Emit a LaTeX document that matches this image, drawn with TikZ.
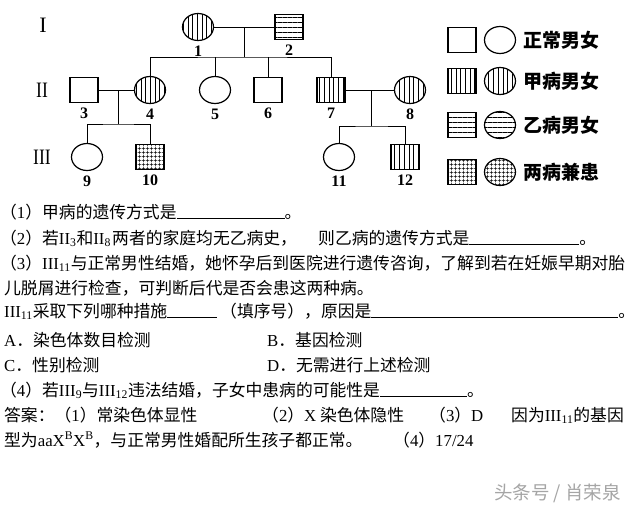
\documentclass[tikz,border=0pt]{standalone}
\usepackage{fontspec}
\usepackage{graphicx}
\setmainfont{Liberation Serif}
\newfontfamily\cjk{Noto Sans CJK SC}
\usetikzlibrary{positioning, shapes.geometric, patterns.meta}
\definecolor{markgray}{RGB}{165,165,165}
\newcommand{\latn}[1]{{\rmfamily #1}}
\newcommand{\genno}[2]{{\rmfamily #1\textsubscript{#2}}}
\newcommand{\ansline}[1]{\rule[-1pt]{#1}{0.6pt}}

\begin{document}
\begin{tikzpicture}[
  x=1pt, y=-1pt,
  male/.style={rectangle, draw, line width=1.2pt, minimum width=28pt, minimum height=25pt, inner sep=0pt},
  female/.style={ellipse, draw, line width=1.2pt, minimum width=31pt, minimum height=27pt, inner sep=0pt},
  jia/.style={pattern={Lines[angle=90, distance=4.7pt, line width=.8pt]}},
  yi/.style={pattern={Lines[angle=0, distance=5pt, line width=.8pt]}},
  liang/.style={pattern={Hatch[distance=4pt, line width=.7pt]}},
  num/.style={inner sep=0pt, font=\fontsize{16}{16}\selectfont\bfseries},
  gen/.style={inner sep=0pt, font=\fontsize{22}{22}\selectfont},
  key/.style={anchor=west, inner sep=0pt, font=\cjk\bfseries\fontsize{19}{19}\selectfont},
  txt/.style={anchor=base west, inner sep=0pt, font=\cjk\fontsize{16.8}{20}\selectfont},
  link/.style={line width=.8pt}
]
\path[use as bounding box, fill=white] (0,0) rectangle (640,507);

% generations
\node[gen] (g1) at (43,25) {I};
\node[gen] (g2) at (42,90) {\scalebox{.8}[1]{II}};
\node[gen] (g3) at (42,157) {\scalebox{.8}[1]{III}};

% pedigree
\node[female, jia] (p1) at (198,27) {};
\node[male, yi] (p2) at (289,27) {};
\node[male] (p3) at (84,90) {};
\node[female, jia] (p4) at (150,90) {};
\node[female] (p5) at (215,90) {};
\node[male] (p6) at (268,90) {};
\node[male, jia] (p7) at (331,90) {};
\node[female, jia] (p8) at (410,90) {};
\node[female] (p9) at (87,157) {};
\node[male, liang] (p10) at (150,157) {};
\node[female] (p11) at (339,157) {};
\node[male, jia] (p12) at (405,157) {};
\foreach \i in {1,...,12}
  \node[num, below=5pt of p\i] (n\i) {\i};

\coordinate (m12) at (244,27);
\coordinate (s12) at (244,57);
\draw[link] (p1) -- (p2);
\draw[link] (m12) -- (s12);
\draw[link] (p4.north) |- (s12) -| (p7.north);
\draw[link] (p5.north) -- (p5.north |- s12);
\draw[link] (p6.north) -- (p6.north |- s12);

\coordinate (m34) at (118,90);
\coordinate (s34) at (118,124);
\draw[link] (p3) -- (p4);
\draw[link] (m34) -- (s34);
\draw[link] (p9.north) |- (s34) -| (p10.north);

\coordinate (m78) at (371,90);
\coordinate (s78) at (371,126);
\draw[link] (p7) -- (p8);
\draw[link] (m78) -- (s78);
\draw[link] (p11.north) |- (s78) -| (p12.north);

% legend
\node[male] (k1m) at (462,40) {};
\node[female] (k1f) at (500,40) {};
\node[key] (k1t) at (523,40) {正常男女};
\node[male, jia] (k2m) at (462,81) {};
\node[female, jia] (k2f) at (500,81) {};
\node[key] (k2t) at (523,81) {甲病男女};
\node[male, yi] (k3m) at (462,125) {};
\node[female, yi] (k3f) at (500,125) {};
\node[key] (k3t) at (523,125) {乙病男女};
\node[male, liang] (k4m) at (462,172) {};
\node[female, liang] (k4f) at (500,172) {};
\node[key] (k4t) at (523,172) {两病兼患};

% questions
\node[txt] (t1) at (0,218) {（\latn{1}）甲病的遗传方式是\ansline{108pt}。};
\node[txt] (t2a) at (0,244) {（\latn{2}）若\genno{II}{3}和\genno{II}{8}};
\node[txt] (t2b) at (112,244) {两者的家庭均无乙病史，};
\node[txt] (t2c) at (318,244) {则乙病的遗传方式是\ansline{110pt}。};
\node[txt] (t3) at (0,269) {（\latn{3}）\genno{III}{11}与正常男性结婚，她怀孕后到医院进行遗传咨询，了解到若在妊娠早期对胎};
\node[txt] (t4) at (4,294) {儿脱屑进行检查，可判断后代是否会患这两种病。};
\node[txt] (t5a) at (4,317) {\genno{III}{11}采取下列哪种措施\ansline{50pt}};
\node[txt] (t5b) at (220,317) {（填序号），原因是\ansline{247pt}。};
\node[txt] (t6a) at (4,346) {\latn{A}．染色体数目检测};
\node[txt] (t6b) at (267,346) {\latn{B}．基因检测};
\node[txt] (t7a) at (4,371) {\latn{C}．性别检测};
\node[txt] (t7b) at (267,371) {\latn{D}．无需进行上述检测};
\node[txt] (t8) at (0,396) {（\latn{4}）若\genno{III}{9}与\genno{III}{12}违法结婚，子女中患病的可能性是\ansline{87pt}。};

% answers
\node[txt] (t9a) at (4,421) {答案：（\latn{1}）常染色体显性};
\node[txt] (t9b) at (262,421) {（\latn{2}）\latn{X} 染色体隐性};
\node[txt] (t9c) at (429,421) {（\latn{3}）\latn{D}};
\node[txt] (t9d) at (511,421) {因为\genno{III}{11}的基因};
\node[txt] (t10a) at (4,446) {型为\latn{aaX\textsuperscript{B}X\textsuperscript{B}}，与正常男性婚配所生孩子都正常。};
\node[txt] (t10b) at (393,446) {（\latn{4}）\latn{17/24}};

\node[anchor=base west, inner sep=0pt, font=\cjk\fontsize{18.5}{18.5}\selectfont, text=markgray] (mark) at (494,499) {头条号 / 肖荣泉};
\end{tikzpicture}
\end{document}
